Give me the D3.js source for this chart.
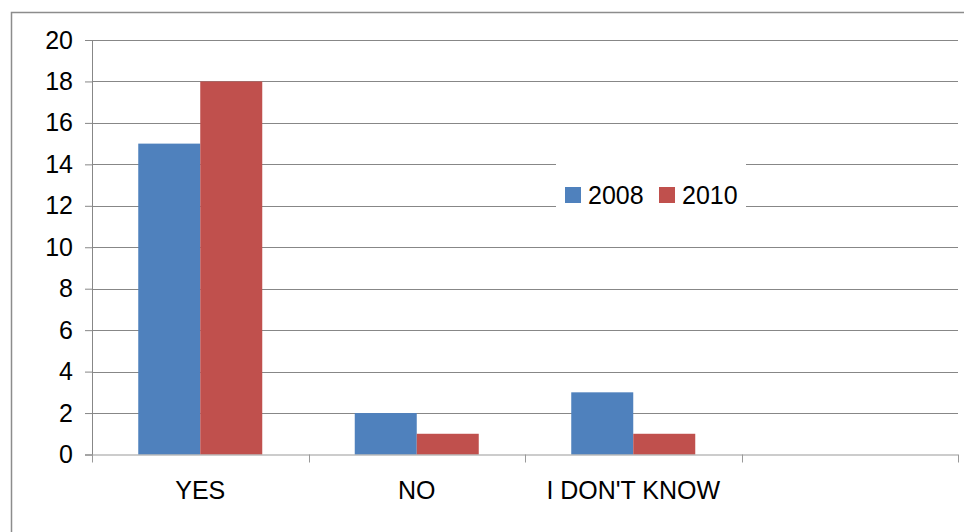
<!DOCTYPE html>
<html>
<head>
<meta charset="utf-8">
<script src="https://cdn.jsdelivr.net/npm/d3@7/dist/d3.min.js"></script>
<style>
  html, body { margin: 0; padding: 0; background: #fff; }
  svg { display: block; }
  text { font-family: "Liberation Sans", Arial, sans-serif; fill: #000; }
</style>
</head>
<body>
<svg id="chart" width="964" height="532"></svg>
<script>
// Survey answers counted per year
const categories = ["YES", "NO", "I DON'T KNOW", ""];
const series = ["2008", "2010"];
const values2008 = [15, 2, 3, null];
const values2010 = [18, 1, 1, null];
const yTicks = [0, 2, 4, 6, 8, 10, 12, 14, 16, 18, 20];
const colors = ["#4F81BD", "#C0504D"];

(function draw() {
  const svg = d3.select("#chart");
  const plotLeft = 92, plotRight = 958, plotTop = 40, plotBottom = 454.5;
  const gridColor = "#878787";

  // outer frame of the chart area
  svg.append("rect")
    .attr("x", 11.5).attr("y", 12.5)
    .attr("width", 1000).attr("height", 600)
    .attr("fill", "none").attr("stroke", "#8c8c8c").attr("stroke-width", 1.5);

  const x = d3.scaleBand().domain(categories).range([plotLeft, plotRight]).paddingInner(0).paddingOuter(0);
  const xInner = d3.scaleBand().domain(series).range([0, x.bandwidth()]).paddingInner(0).paddingOuter(0.746);
  const y = d3.scaleLinear().domain([0, 20]).range([plotBottom, plotTop]);

  // horizontal gridlines
  svg.append("g").selectAll("line").data(yTicks.filter(t => t > 0)).join("line")
    .attr("x1", plotLeft).attr("x2", plotRight)
    .attr("y1", d => Math.round(y(d)) + 0.5).attr("y2", d => Math.round(y(d)) + 0.5)
    .attr("stroke", gridColor).attr("stroke-width", 1);

  // value axis
  const yAxis = d3.axisLeft(y).tickValues(yTicks).tickSize(7).tickPadding(12);
  const gy = svg.append("g").attr("transform", `translate(${plotLeft},0)`).call(yAxis);
  gy.select(".domain").attr("stroke", gridColor);
  gy.selectAll(".tick line").attr("stroke", gridColor);
  gy.selectAll(".tick text").style("font-size", "25px").attr("fill", "#000")
    .style("font-family", "'Liberation Sans', Arial, sans-serif");

  // bars
  const data = [values2008, values2010];
  series.forEach((s, i) => {
    svg.append("g").selectAll("rect")
      .data(categories.map((c, j) => ({ c, v: data[i][j] })).filter(d => d.v != null))
      .join("rect")
      .attr("x", d => x(d.c) + xInner(s))
      .attr("width", xInner.bandwidth())
      .attr("y", d => y(d.v))
      .attr("height", d => y(0) - y(d.v))
      .attr("fill", colors[i]);
  });

  // category axis with ticks on band boundaries
  const xAxis = d3.axisBottom(x).tickSize(0).tickPadding(27);
  const gx = svg.append("g").attr("transform", `translate(0,${plotBottom})`).call(xAxis);
  gx.select(".domain").remove();
  gx.selectAll(".tick text").style("font-size", "25px").attr("fill", "#000")
    .style("font-family", "'Liberation Sans', Arial, sans-serif");
  const bounds = categories.map(c => x(c)).concat([plotRight]);
  gx.append("line").attr("x1", plotLeft).attr("x2", plotRight).attr("y1", 0.5).attr("y2", 0.5)
    .attr("stroke", "#999");
  gx.selectAll(".bound").data(bounds).join("line").attr("class", "bound")
    .attr("x1", d => Math.round(d) + 0.5).attr("x2", d => Math.round(d) + 0.5)
    .attr("y1", 0).attr("y2", 8).attr("stroke", "#999");

  // legend
  const lg = svg.append("g");
  lg.append("rect").attr("x", 556).attr("y", 158).attr("width", 190).attr("height", 54).attr("fill", "#fff");
  const legendX = [565, 659];
  series.forEach((s, i) => {
    lg.append("rect").attr("x", legendX[i]).attr("y", 187).attr("width", 16).attr("height", 16).attr("fill", colors[i]);
    lg.append("text").attr("x", legendX[i] + 23).attr("y", 204).style("font-size", "25px").text(s);
  });
})();
</script>
</body>
</html>
